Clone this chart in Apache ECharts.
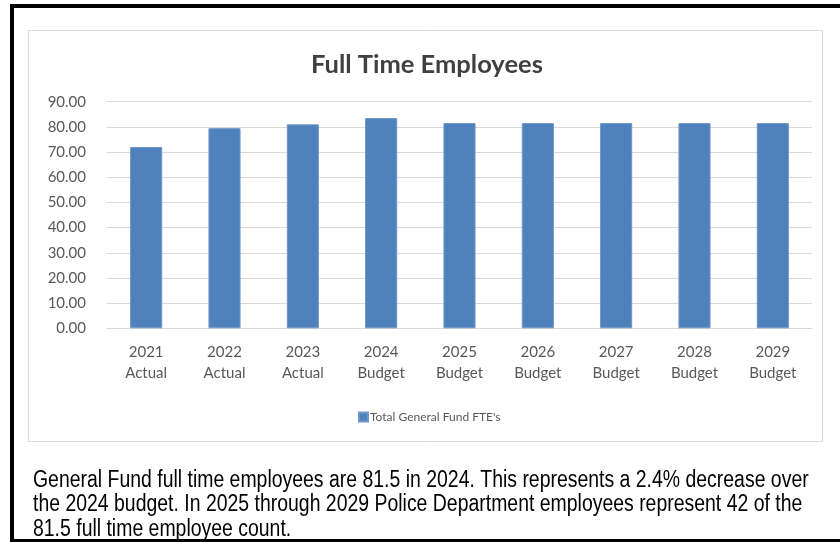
<!DOCTYPE html>
<html><head><meta charset="utf-8">
<script src="https://cdn.jsdelivr.net/npm/echarts@6/dist/echarts.min.js"></script>
<style>html,body{margin:0;padding:0;background:#fff}#c{width:840px;height:542px}</style>
</head><body><div id="c"></div>
<script>
var categories = ['2021\nActual','2022\nActual','2023\nActual','2024\nBudget','2025\nBudget','2026\nBudget','2027\nBudget','2028\nBudget','2029\nBudget'];
var fteValues = [72.0, 79.5, 81.0, 83.5, 81.5, 81.5, 81.5, 81.5, 81.5];
var seriesName = "Total General Fund FTE's";
var chartTitle = 'Full Time Employees';
var noteLines = [
  'General Fund full time employees are 81.5 in 2024. This represents a 2.4% decrease over',
  'the 2024 budget. In 2025 through 2029 Police Department employees represent 42 of the',
  '81.5 full time employee count.'
];
var font = 'Lato, "Open Sans", sans-serif';
var chart = echarts.init(document.getElementById('c'));
chart.setOption({
  animation: false,
  title: { text: chartTitle, left: 306, top: 47,
    textStyle: { fontFamily: font, fontSize: 25.5, fontWeight: 'bold', color: '#404040' } },
  legend: { data: [seriesName], left: 353, top: 406, itemWidth: 9, itemHeight: 9, itemGap: 4,
    icon: 'rect', textStyle: { fontFamily: font, fontSize: 12, color: '#595959', padding: [0,0,0,-3] } },
  grid: { left: 107, right: 28, top: 101.7, bottom: 213.7, containLabel: false },
  xAxis: { type: 'category', data: categories,
    axisLine: { lineStyle: { color: '#d9d9d9' } }, axisTick: { show: false },
    axisLabel: { fontFamily: font, fontSize: 15, color: '#595959', lineHeight: 21, margin: 13, interval: 0 } },
  yAxis: { type: 'value', min: 0, max: 90, interval: 10,
    axisLine: { show: false }, axisTick: { show: false },
    splitLine: { lineStyle: { color: '#d9d9d9', width: 1 } },
    axisLabel: { fontFamily: font, fontSize: 15, color: '#595959', margin: 21,
      formatter: function (v) { return v.toFixed(2); } } },
  series: [{ name: seriesName, type: 'bar', data: fteValues, barWidth: '41%',
    itemStyle: { color: '#4f81bd', borderColor: '#6f97c8', borderWidth: 1 } }],
  graphic: [
    { type: 'rect', shape: { x: 10, y: 4, width: 830, height: 4 }, style: { fill: '#000' }, silent: true },
    { type: 'rect', shape: { x: 10, y: 4, width: 4, height: 538 }, style: { fill: '#000' }, silent: true },
    { type: 'rect', shape: { x: 10, y: 539, width: 830, height: 3 }, style: { fill: '#000' }, silent: true },
    { type: 'rect', shape: { x: 28.5, y: 30.5, width: 794, height: 411 }, style: { fill: 'none', stroke: '#d9d9d9', lineWidth: 1 }, silent: true, z: -1 },
    { type: 'text', x: 33, y: 468, scaleX: 0.845, silent: true,
      style: { x: 0, y: 0, text: noteLines.join('\n'), fontFamily: '"Liberation Sans", Arial, sans-serif', fontSize: 23, lineHeight: 24.5, fill: '#000' } }
  ]
});
</script></body></html>
